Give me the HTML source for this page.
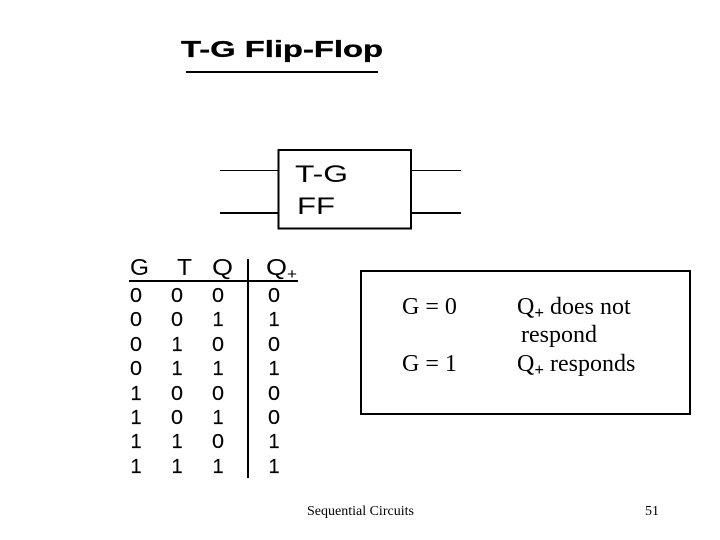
<!DOCTYPE html>
<html><head><meta charset="utf-8"><style>
html,body{margin:0;padding:0;background:#fff;width:720px;height:540px;overflow:hidden}
svg{display:block}
.a{font-family:"Liberation Sans",sans-serif;font-size:20px;fill:#000;stroke:#000;stroke-width:.15;text-anchor:middle}
.h{font-family:"Liberation Sans",sans-serif;font-size:23px;fill:#000}
.s{font-family:"Liberation Serif",serif;font-size:24px;fill:#000}
</style></head><body>
<svg width="720" height="540" viewBox="0 0 720 540" xmlns="http://www.w3.org/2000/svg">
<text x="181" y="57" font-family="Liberation Sans" font-weight="bold" font-size="23" stroke="#000" stroke-width=".3" textLength="202" lengthAdjust="spacingAndGlyphs">T-G Flip-Flop</text>
<rect x="186" y="71" width="192" height="2"/>
<rect x="278.5" y="150" width="132.5" height="78.500" fill="none" stroke="#000" stroke-width="2"/>
<rect x="220" y="170" width="58" height="1"/><rect x="411" y="170" width="50" height="1"/>
<rect x="220" y="212" width="58" height="2"/><rect x="411" y="212" width="50" height="2"/>
<text x="295" y="182" font-family="Liberation Sans" font-size="24" textLength="53" lengthAdjust="spacingAndGlyphs">T-G</text>
<text x="297" y="214" font-family="Liberation Sans" font-size="24" textLength="38" lengthAdjust="spacingAndGlyphs">FF</text>
<rect x="129" y="280" width="169" height="2"/>
<rect x="247" y="259" width="2" height="219"/>
<text class="h" x="130" y="275" textLength="19" lengthAdjust="spacingAndGlyphs">G</text>
<text class="h" x="177" y="275" textLength="15" lengthAdjust="spacingAndGlyphs">T</text>
<text class="h" x="212" y="275" textLength="21" lengthAdjust="spacingAndGlyphs">Q</text>
<text class="h" x="266" y="275" textLength="21" lengthAdjust="spacingAndGlyphs">Q</text>
<text x="287" y="279" font-family="Liberation Sans" font-size="15" textLength="10" lengthAdjust="spacingAndGlyphs">+</text>
<g>
<text class="a" x="136" y="302" textLength="12" lengthAdjust="spacingAndGlyphs">0</text><text class="a" x="177" y="302" textLength="12" lengthAdjust="spacingAndGlyphs">0</text><text class="a" x="218" y="302" textLength="12" lengthAdjust="spacingAndGlyphs">0</text><text class="a" x="274" y="302" textLength="12" lengthAdjust="spacingAndGlyphs">0</text>
<text class="a" x="136" y="326" textLength="12" lengthAdjust="spacingAndGlyphs">0</text><text class="a" x="177" y="326" textLength="12" lengthAdjust="spacingAndGlyphs">0</text><text class="a" x="218" y="326">1</text><text class="a" x="274" y="326">1</text>
<text class="a" x="136" y="351" textLength="12" lengthAdjust="spacingAndGlyphs">0</text><text class="a" x="177" y="351">1</text><text class="a" x="218" y="351" textLength="12" lengthAdjust="spacingAndGlyphs">0</text><text class="a" x="274" y="351" textLength="12" lengthAdjust="spacingAndGlyphs">0</text>
<text class="a" x="136" y="375" textLength="12" lengthAdjust="spacingAndGlyphs">0</text><text class="a" x="177" y="375">1</text><text class="a" x="218" y="375">1</text><text class="a" x="274" y="375">1</text>
<text class="a" x="136" y="400">1</text><text class="a" x="177" y="400" textLength="12" lengthAdjust="spacingAndGlyphs">0</text><text class="a" x="218" y="400" textLength="12" lengthAdjust="spacingAndGlyphs">0</text><text class="a" x="274" y="400" textLength="12" lengthAdjust="spacingAndGlyphs">0</text>
<text class="a" x="136" y="424">1</text><text class="a" x="177" y="424" textLength="12" lengthAdjust="spacingAndGlyphs">0</text><text class="a" x="218" y="424">1</text><text class="a" x="274" y="424" textLength="12" lengthAdjust="spacingAndGlyphs">0</text>
<text class="a" x="136" y="448">1</text><text class="a" x="177" y="448">1</text><text class="a" x="218" y="448" textLength="12" lengthAdjust="spacingAndGlyphs">0</text><text class="a" x="274" y="448">1</text>
<text class="a" x="136" y="473">1</text><text class="a" x="177" y="473">1</text><text class="a" x="218" y="473">1</text><text class="a" x="274" y="473">1</text>
</g>
<rect x="361" y="271" width="329" height="143" fill="none" stroke="#000" stroke-width="2"/>
<text class="s" x="402" y="314">G = 0</text>
<text class="s" x="402" y="371">G = 1</text>
<text class="s" x="517" y="314">Q<tspan font-size="17" dy="4" font-weight="bold">+</tspan><tspan dy="-4"> does not</tspan></text>
<text class="s" x="521" y="342">respond</text>
<text class="s" x="517" y="371">Q<tspan font-size="17" dy="4" font-weight="bold">+</tspan><tspan dy="-4"> responds</tspan></text>
<text x="307" y="515" font-family="Liberation Serif" font-size="14">Sequential Circuits</text>
<text x="645" y="515" font-family="Liberation Serif" font-size="14">51</text>
</svg>
</body></html>
